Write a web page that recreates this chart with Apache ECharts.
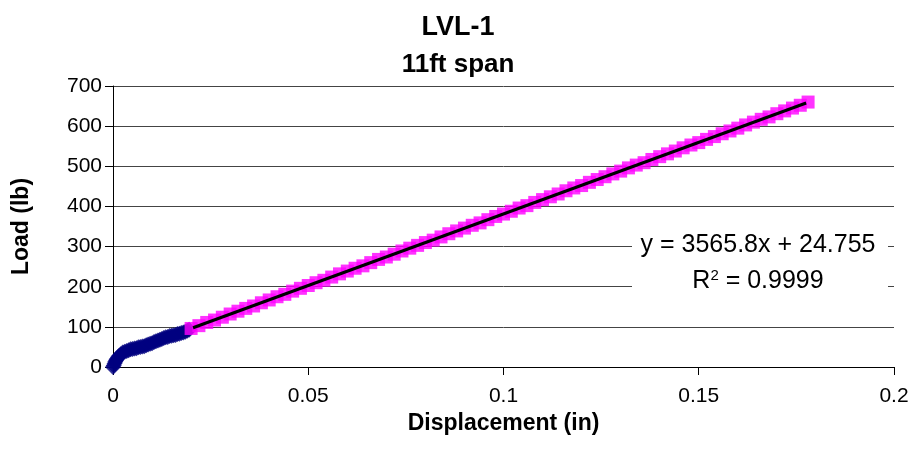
<!DOCTYPE html>
<html>
<head>
<meta charset="utf-8">
<title>LVL-1 11ft span</title>
<script src="https://cdn.jsdelivr.net/npm/echarts@6/dist/echarts.min.js"></script>
<style>
  html, body { margin: 0; padding: 0; background: #fff; }
  #chart { width: 916px; height: 460px; }
</style>
</head>
<body>
<div id="chart"></div>
<script>
// Initial seating portion of the load test (displacement in, load lb)
const seatingX = [0, 0.0002, 0.0004, 0.0006, 0.0008, 0.001, 0.0013, 0.0016, 0.002, 0.0025,
  0.003, 0.0035, 0.004, 0.0045, 0.005, 0.0055, 0.006, 0.0065, 0.007, 0.0075,
  0.008, 0.0085, 0.009, 0.0095, 0.010, 0.0105, 0.011, 0.0115, 0.012, 0.0125,
  0.013, 0.0135, 0.014, 0.0145, 0.015, 0.0155, 0.016, 0.0165, 0.017, 0.0175,
  0.018, 0.0185, 0.019, 0.0195];
const seatingY = [0, 4, 9, 13, 17, 20, 24, 28, 32, 36,
  38, 40, 42, 44, 45, 46, 47, 49, 50, 51,
  52, 54, 56, 58, 59, 62, 64, 66, 68, 70,
  72, 74, 75, 77, 78, 79, 80, 82, 83, 85,
  86, 88, 90, 93];

// Linear portion of the load test
const linearX = [0.020, 0.022, 0.024, 0.026, 0.028, 0.030, 0.032, 0.034, 0.036, 0.038,
  0.040, 0.042, 0.044, 0.046, 0.048, 0.050, 0.052, 0.054, 0.056, 0.058,
  0.060, 0.062, 0.064, 0.066, 0.068, 0.070, 0.072, 0.074, 0.076, 0.078,
  0.080, 0.082, 0.084, 0.086, 0.088, 0.090, 0.092, 0.094, 0.096, 0.098,
  0.100, 0.102, 0.104, 0.106, 0.108, 0.110, 0.112, 0.114, 0.116, 0.118,
  0.120, 0.122, 0.124, 0.126, 0.128, 0.130, 0.132, 0.134, 0.136, 0.138,
  0.140, 0.142, 0.144, 0.146, 0.148, 0.150, 0.152, 0.154, 0.156, 0.158,
  0.160, 0.162, 0.164, 0.166, 0.168, 0.170, 0.172, 0.174, 0.176, 0.178];
const linearY = [96, 103, 111, 117, 124, 132, 139, 146, 152, 160,
  167, 175, 181, 189, 196, 203, 210, 216, 224, 232,
  239, 246, 252, 260, 268, 274, 281, 289, 296, 303,
  310, 316, 324, 332, 339, 346, 353, 359, 367, 375,
  381, 388, 396, 402, 410, 417, 424, 431, 439, 446,
  452, 460, 467, 474, 481, 488, 496, 503, 509, 517,
  524, 531, 538, 546, 553, 559, 567, 574, 581, 588,
  595, 603, 610, 617, 623, 631, 638, 645, 652, 660];

// Least-squares fit of the linear portion
const fitSlope = 3565.8;
const fitIntercept = 24.755;
const fitR2 = 0.9999;
const fitRange = [0.0205, 0.1775];

const xTicks = [0, 0.05, 0.1, 0.15, 0.2];
const yTicks = [0, 100, 200, 300, 400, 500, 600, 700];

const zip = (xs, ys) => xs.map((x, i) => [x, ys[i]]);
const fitLine = fitRange.map(x => [x, fitSlope * x + fitIntercept]);

const FONT = '"Liberation Sans", Arial, sans-serif';

const chart = echarts.init(document.getElementById('chart'), null, { renderer: 'canvas' });

chart.setOption({
  animation: false,
  backgroundColor: '#fff',
  title: {
    text: 'LVL-1',
    subtext: '11ft span',
    left: 'center',
    top: 9,
    itemGap: 11,
    textStyle: { fontFamily: FONT, fontSize: 27, fontWeight: 'bold', color: '#000' },
    subtextStyle: { fontFamily: FONT, fontSize: 26, fontWeight: 'bold', color: '#000' }
  },
  grid: { left: 113, right: 22, top: 86, bottom: 93, containLabel: false },
  xAxis: {
    type: 'value',
    min: xTicks[0],
    max: xTicks[xTicks.length - 1],
    interval: 0.05,
    name: 'Displacement (in)',
    nameLocation: 'middle',
    nameGap: 41,
    nameTextStyle: { fontFamily: FONT, fontSize: 23, fontWeight: 'bold', color: '#000' },
    axisLine: { onZero: false, lineStyle: { color: '#000', width: 1 } },
    axisTick: { show: true, length: 8, inside: false, lineStyle: { color: '#000' } },
    axisLabel: {
      margin: 19, fontFamily: FONT, fontSize: 21, color: '#000',
      formatter: v => String(+v.toFixed(2))
    },
    splitLine: { show: false }
  },
  yAxis: {
    type: 'value',
    min: yTicks[0],
    max: yTicks[yTicks.length - 1],
    interval: 100,
    name: 'Load (lb)',
    nameLocation: 'middle',
    nameGap: 80,
    nameTextStyle: { fontFamily: FONT, fontSize: 23, fontWeight: 'bold', color: '#000' },
    axisLine: { show: true, lineStyle: { color: '#000', width: 1 } },
    axisTick: { show: true, length: 8, inside: false, lineStyle: { color: '#000' } },
    axisLabel: { margin: 11, fontFamily: FONT, fontSize: 21, color: '#000' },
    splitLine: { show: true, lineStyle: { color: '#444', width: 1 } }
  },
  series: [
    {
      name: 'Seating',
      type: 'scatter',
      data: zip(seatingX, seatingY),
      symbol: 'diamond',
      symbolSize: 16,
      itemStyle: { color: '#000080' },
      z: 3
    },
    {
      name: 'Linear',
      type: 'scatter',
      data: zip(linearX, linearY),
      symbol: 'rect',
      symbolSize: 13,
      itemStyle: { color: '#FF00FF' },
      z: 4
    },
    {
      name: 'Linear fit',
      type: 'line',
      data: fitLine,
      showSymbol: false,
      symbol: 'none',
      lineStyle: { color: '#000', width: 3 },
      z: 5
    }
  ],
  graphic: [
    {
      type: 'rect',
      z: 100,
      shape: { x: 632, y: 227, width: 256, height: 68 },
      style: { fill: '#fff' }
    },
    {
      type: 'text',
      z: 101,
      x: 758, y: 245,
      style: {
        text: 'y = ' + fitSlope + 'x + ' + fitIntercept,
        fontFamily: FONT, fontSize: 25, fill: '#000',
        align: 'center', verticalAlign: 'middle'
      }
    },
    {
      type: 'text',
      z: 101,
      x: 758, y: 281,
      style: {
        text: '{a|R}{s|2}{a| = ' + fitR2 + '}',
        align: 'center', verticalAlign: 'middle',
        rich: {
          a: { fontFamily: FONT, fontSize: 25, color: '#000' },
          s: { fontFamily: FONT, fontSize: 15, color: '#000', verticalAlign: 'top', padding: [0, 0, 10, 0] }
        }
      }
    }
  ]
});
</script>
</body>
</html>
